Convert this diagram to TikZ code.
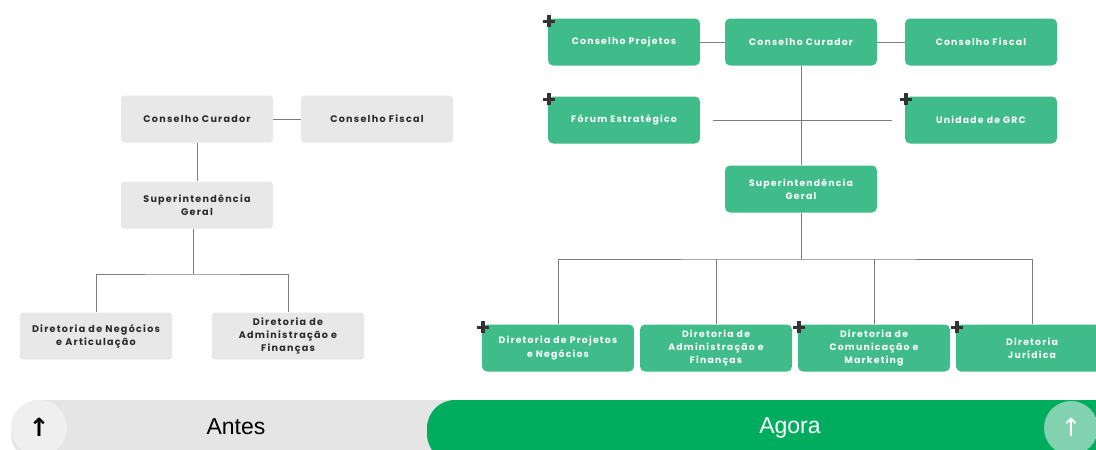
\documentclass[tikz,border=0pt]{standalone}
\usepackage{fontspec}
\newfontfamily\orgfont{Poppins}[LetterSpace=13]
\newfontfamily\barfont{Liberation Sans}
\newfontfamily\symfont{DejaVu Sans}
\definecolor{oldgray}{HTML}{E8E8E8}
\definecolor{oldtext}{HTML}{2A2A2A}
\definecolor{newgreen}{HTML}{40BB8A}
\definecolor{linkgray}{HTML}{7C7C7C}
\definecolor{plusdark}{HTML}{333333}
\definecolor{bargray}{HTML}{E5E5E5}
\definecolor{barcircle}{HTML}{EFEFEF}
\definecolor{bargreen}{HTML}{00AD5F}
\definecolor{greencircle}{HTML}{82D1AF}
\tikzset{
  oldbox/.style={fill=oldgray, rounded corners=3pt, inner sep=0pt,
    minimum width=152pt, minimum height=47pt, text width=150pt, align=center,
    text=oldtext, font=\orgfont\bfseries\fontsize{9.6}{13.4}\selectfont},
  newbox/.style={fill=newgreen, rounded corners=5pt, inner sep=0pt,
    minimum width=152pt, minimum height=47pt, text width=150pt, align=center,
    text=white, font=\orgfont\bfseries\fontsize{9.3}{13.2}\selectfont},
  link/.style={draw=linkgray, line width=0.9pt},
  plusmark/.style={draw=plusdark, line width=3.4pt},
}
\begin{document}
\begin{tikzpicture}[x=1pt,y=-1pt]
\useasboundingbox (0,0) rectangle (1096,450);
\clip (0,0) rectangle (1096,450);
% antes
\node[oldbox] (ocur) at (197,119) {Conselho Curador};
\node[oldbox] (ofis) at (377,119) {Conselho Fiscal};
\node[oldbox] (osup) at (197,205) {Superintendência\\Geral};
\node[oldbox] (onego) at (96,336) {Diretoria de Negócios\\e Articulação};
\node[oldbox] (oadmi) at (288,336) {Diretoria de\\Administração e\\Finanças};
\coordinate (ojoin) at (193,274); % left join
\draw[link] (ocur) -- (ofis);
\draw[link] (ocur) -- (osup);
\draw[link] (osup.south -| ojoin) -- (ojoin);
\draw[link] (onego.north) |- (ojoin) -| (oadmi.north);
% agora
\node[newbox] (ncproj) at (624,42) {Conselho Projetos};
\node[newbox] (ncur) at (801,42) {Conselho Curador};
\node[newbox] (nfis) at (981,42) {Conselho Fiscal};
\node[newbox] (nforum) at (624,120) {Fórum Estratégico};
\node[newbox] (ngrc) at (981,120) {Unidade de GRC};
\node[newbox] (nsup) at (801,189) {Superintendência\\Geral};
\node[newbox] (ndproj) at (558,348) {Diretoria de Projetos\\e Negócios};
\node[newbox] (ndadm) at (716,348) {Diretoria de\\Administração e\\Finanças};
\node[newbox] (ndcom) at (874,348) {Diretoria de\\Comunicação e\\Marketing};
\node[newbox] (ndjur) at (1032,348) {Diretoria\\Jurídica};
\coordinate (njoin) at (801,259); % right join
\draw[link] (ncproj) -- (ncur);
\draw[link] (ncur) -- (nfis);
\draw[link] (ncur) -- (nsup);
\draw[link, shorten <=13pt, shorten >=13pt] (nforum) -- (ngrc);
\draw[link] (nsup) -- (njoin);
\draw[link] (ndproj.north) |- (njoin) -| (ndjur.north);
\draw[link] (ndadm.north) -- (ndadm.north |- njoin);
\draw[link] (ndcom.north) -- (ndcom.north |- njoin);
\foreach \n in {ncproj, nforum, ngrc, ndproj, ndcom, ndjur}
  \draw[plusmark] ([shift={(-5,3)}]\n.north west) -- ++(12,0)
                  ([shift={(1,-3)}]\n.north west) -- ++(0,12);
% bar
\fill[bargray, rounded corners=28pt] (11,400) rectangle (1130,462);
\fill[barcircle] (39,428) circle (28);
\fill[bargreen, rounded corners=28pt] (427,400) rectangle (1130,462);
\fill[greencircle] (1071,428) circle (27);
\node[font=\symfont\bfseries\fontsize{25}{25}\selectfont, text=black] (upold) at (39,427) {↑};
\node[font=\symfont\fontsize{25}{25}\selectfont, text=white] (upnew) at (1071,427) {↑};
\node[font=\barfont\fontsize{23}{23}\selectfont, text=black] (antes) at (236,427) {Antes};
\node[font=\barfont\fontsize{23}{23}\selectfont, text=white] (agora) at (790,428) {Agora};
\end{tikzpicture}
\end{document}
